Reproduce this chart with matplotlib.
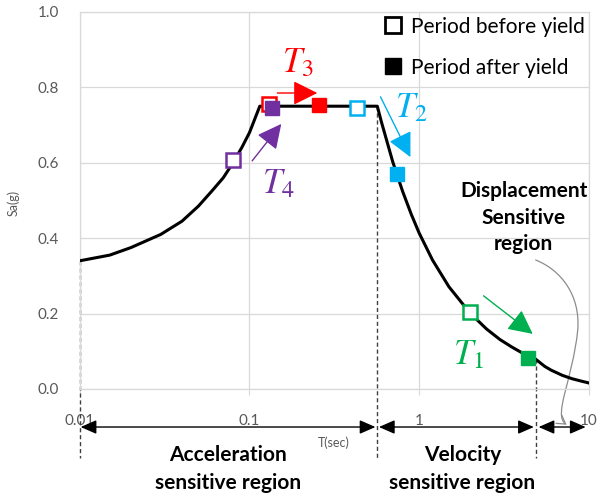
import numpy as np
import matplotlib
matplotlib.use('Agg')
from matplotlib import pyplot as plt
from matplotlib.lines import Line2D
from matplotlib.patches import FancyArrowPatch
from matplotlib.path import Path

plt.rcParams['font.family'] = ['Lato', 'DejaVu Sans']
plt.rcParams['mathtext.fontset'] = 'stix'

# Design spectrum (period in s, spectral acceleration in g)
period = [0.01, 0.015, 0.02, 0.03, 0.04, 0.05, 0.06, 0.07, 0.08, 0.09, 0.10, 0.115,
          0.567, 0.6, 0.7, 0.8, 0.9, 1.0, 1.2, 1.5, 2.0, 2.5, 3.0, 3.5, 4.0, 4.5,
          4.87, 5.5, 6.0, 7.0, 8.0, 9.0, 10.0]
sa = [0.34, 0.355, 0.375, 0.41, 0.445, 0.485, 0.525, 0.56, 0.60, 0.64, 0.68, 0.75,
      0.75, 0.708, 0.602, 0.524, 0.463, 0.414, 0.342, 0.271, 0.201, 0.159, 0.131,
      0.112, 0.097, 0.086, 0.079, 0.060, 0.050, 0.036, 0.027, 0.021, 0.016]

# Region boundaries: acceleration / velocity / displacement
t_bounds = [0.01, 0.567, 4.87, 10.0]
sa_bounds = [0.34, 0.75, 0.079]

# Periods before and after yield for the four cases
labels = ['$T_1$', '$T_2$', '$T_3$', '$T_4$']
colors = ['#00B050', '#00B0F0', '#FF0000', '#7030A0']
t_before = [1.99, 0.432, 0.1306, 0.080]
sa_before = [0.204, 0.745, 0.756, 0.607]
t_after = [4.36, 0.745, 0.258, 0.136]
sa_after = [0.082, 0.570, 0.753, 0.745]

# arrow tail/tip and label position for each case
arr_tail = [(2.40, 0.247), (0.592, 0.775), (0.146, 0.785), (0.1037, 0.605)]
arr_tip = [(4.68, 0.146), (0.889, 0.615), (0.251, 0.785), (0.154, 0.703)]
lab_pos = [(1.96, 0.09), (0.902, 0.745), (0.194, 0.865), (0.1477, 0.546)]

grid_c = '#D9D9D9'
tick_c = '#595959'

fig, ax = plt.subplots(figsize=(6.1, 4.98), dpi=100)
fig.subplots_adjust(left=0.131, right=0.965, top=0.976, bottom=0.219)

ax.set_xscale('log')
ax.set_xlim(0.01, 10)
ax.set_ylim(0, 1.0)
ax.set_xticks([0.01, 0.1, 1, 10])
ax.set_xticklabels(['0.01', '0.1', '1', '10'])
ax.minorticks_off()
ax.set_yticks(np.arange(0, 1.01, 0.2))
ax.set_yticklabels(['%.1f' % v for v in np.arange(0, 1.01, 0.2)])
ax.grid(color=grid_c, lw=0.9)
ax.set_axisbelow(True)
for s in ax.spines.values():
    s.set_color(grid_c)
    s.set_linewidth(0.9)
ax.tick_params(axis='x', colors=tick_c, labelsize=11, length=4, color=grid_c, pad=14)
ax.tick_params(axis='y', colors=tick_c, labelsize=11, length=0, pad=15)
ax.set_ylabel('Sa(g)', color=tick_c, fontsize=9)
ax.yaxis.set_label_coords(-0.118, 0.493)
ax.set_xlabel('T(sec)', color=tick_c, fontsize=9)
ax.xaxis.set_label_coords(0.5, -0.127)

# spectrum
ax.plot(period, sa, color='black', lw=2.2, zorder=3)

# region boundaries and span arrows below the axis
y_low = -0.183
y_arr = -0.101
for tb, sb in zip(t_bounds[:3], sa_bounds):
    ax.plot([tb, tb], [sb, y_low], color='#404040', lw=1, ls=(0, (3, 2)),
            clip_on=False, zorder=2)
spans = [(0.0101, 0.553), (0.58, 4.75), (5.07, 9.6)]
for a, b in spans:
    ax.annotate('', xy=(b, y_arr), xytext=(a, y_arr), xycoords='data',
                arrowprops=dict(arrowstyle='<|-|>,head_length=0.8,head_width=0.35',
                                color='black', lw=1, mutation_scale=12,
                                shrinkA=0, shrinkB=0), annotation_clip=False)

# before/after yield markers
for i in range(4):
    ax.plot(t_before[i], sa_before[i], 's', ms=10.5, mfc='white', mec=colors[i],
            mew=1.8, zorder=4)
for i in range(4):
    ax.plot(t_after[i], sa_after[i], 's', ms=10.5, color=colors[i], zorder=5)

for i in range(4):
    ax.annotate('', xy=arr_tip[i], xytext=arr_tail[i],
                arrowprops=dict(arrowstyle='-|>,head_length=1.0,head_width=0.5',
                                color=colors[i], lw=1, mutation_scale=15,
                                shrinkA=0, shrinkB=0), zorder=6)
    ax.text(lab_pos[i][0], lab_pos[i][1], labels[i], color=colors[i],
            fontsize=25, ha='center', va='center', zorder=6)

# region labels
ax.text(0.0749, -0.212, 'Acceleration\nsensitive region', ha='center', va='center',
        fontsize=15, fontweight='bold', linespacing=1.5, clip_on=False)
ax.text(1.80, -0.212, 'Velocity\nsensitive region', ha='center', va='center',
        fontsize=15, fontweight='bold', linespacing=1.5, clip_on=False)
ax.text(4.14, 0.454, 'Displacement\nSensitive\nregion', ha='center', va='center',
        fontsize=15, fontweight='bold', linespacing=1.4)

# pointer from the displacement label to its span
verts = [(4.87, 0.342), (6.84, 0.316), (8.97, 0.249), (8.62, 0.156),
         (8.05, 0.024), (6.14, -0.069), (7.42, -0.095)]
codes = [Path.MOVETO] + [Path.CURVE4] * 6
ptr = FancyArrowPatch(path=Path(verts, codes), arrowstyle='->,head_length=0.5,head_width=0.3',
                      color='#8C8C8C', lw=0.9, mutation_scale=12,
                      transform=ax.transData, clip_on=False, zorder=2)
ax.add_patch(ptr)

# legend
handles = [Line2D([], [], marker='s', ls='none', ms=11, mfc='white', mec='black', mew=2),
           Line2D([], [], marker='s', ls='none', ms=11, color='black')]
ax.legend(handles, ['Period before yield', 'Period after yield'], loc='upper left',
          bbox_to_anchor=(0.575, 1.015), frameon=False, fontsize=15, labelspacing=1.0,
          handlelength=1.0, handletextpad=0.35, borderpad=0)

fig.savefig('out.png', dpi=100)
